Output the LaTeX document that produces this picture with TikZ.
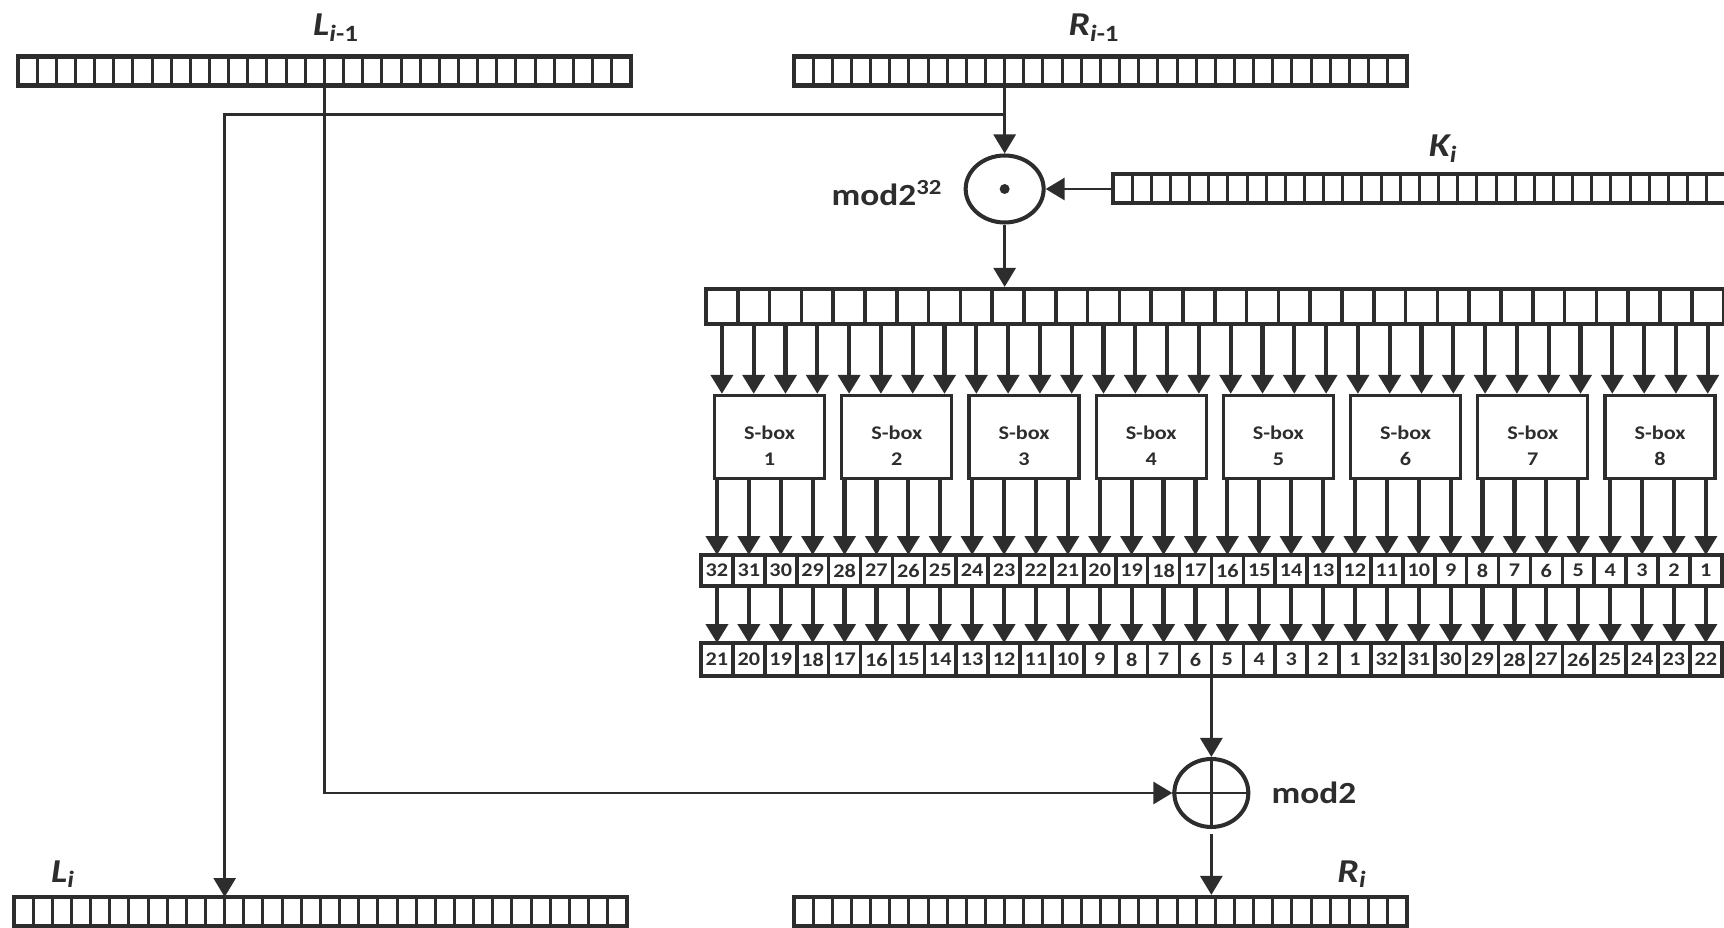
\documentclass[tikz,border=0pt]{standalone}
\usepackage{fontspec}
\setmainfont{Carlito}[FakeStretch=1.15]
\usepackage{tikz}
\usetikzlibrary{shapes,arrows.meta,positioning,calc,fit}
\definecolor{lineGray}{RGB}{45,45,45}

\begin{document}
\begin{tikzpicture}[x=0.02cm, y=-0.02cm, color=lineGray, line width=1.7pt,
  every node/.style={font=\fontsize{11}{15}\selectfont\bfseries},
  bit/.style={draw, line width=1.7pt, inner sep=0pt, outer sep=0pt, minimum width=0.383cm, minimum height=0.58cm},
  wcell/.style={draw, line width=2pt, inner sep=0pt, outer sep=0pt, minimum width=0.636cm},
  regframe/.style={draw, line width=2.4pt, inner sep=0pt},
  sbox/.style={draw, line width=1.9pt, minimum width=2.2cm, minimum height=1.66cm, align=center},
  op/.style={draw, ellipse, line width=2.3pt, inner sep=0pt},
  arr/.style={-{Triangle[width=0.44cm, length=0.38cm]}},
  bus/.style={arr, line width=2.4pt},
  reglbl/.style={font=\fontsize{19}{22}\selectfont\bfseries\itshape},
  oplbl/.style={font=\fontsize{17.5}{20}\selectfont\bfseries}]
  \useasboundingbox (0,0) rectangle (1724,928);
  % 32-bit registers
  \foreach \k in {1,...,32} {
    \node[bit] (lp-\k) at ({18+19.15*(\k-0.5)},71) {};
    \node[bit] (rp-\k) at ({794+19.15*(\k-0.5)},71) {};
    \node[bit] (ki-\k) at ({1113+19.15*(\k-0.5)},188.5) {};
    \node[bit] (li-\k) at ({14+19.15*(\k-0.5)},911.5) {};
    \node[bit] (ri-\k) at ({794+19.15*(\k-0.5)},911.5) {};
    \node[wcell, minimum height=0.7cm] (ex-\k) at ({706+31.8*(\k-0.5)},306.5) {};
  }
  \node[regframe, fit=(lp-1)(lp-32)] (lprev) {};
  \node[regframe, fit=(rp-1)(rp-32)] (rprev) {};
  \node[regframe, fit=(ki-1)(ki-32)] (key) {};
  \node[regframe, fit=(li-1)(li-32)] (lnew) {};
  \node[regframe, fit=(ri-1)(ri-32)] (rnew) {};
  \node[regframe, fit=(ex-1)(ex-32)] (expand) {};
  % Labels
  \node[reglbl, anchor=base] (lprevlbl) at (336,36) {L\textsubscript{i\upshape-1}};
  \node[reglbl, anchor=base] (rprevlbl) at (1094,36) {R\textsubscript{i\upshape-1}};
  \node[reglbl, anchor=base] (keylbl) at (1443,157) {K\textsubscript{i}};
  \node[reglbl, anchor=base] (lnewlbl) at (63,882) {L\textsubscript{i}};
  \node[reglbl, anchor=base] (rnewlbl) at (1352,882) {R\textsubscript{i}};
  % S-boxes
  \foreach \j in {1,...,8}
    \node[sbox] (sb-\j) at ({706+31.8*(4*\j-2)},437) {\rule{0pt}{18pt}S-box\\\j};
  % Permutation rows
  \foreach \k in {1,...,32} {
    \pgfmathtruncatemacro{\n}{33-\k}
    \node[wcell, minimum height=0.62cm] (oa-\k) at ({701+31.9*(\k-0.5)},570.5) {\n};
  }
  \foreach \n [count=\k] in {21,20,19,18,17,16,15,14,13,12,11,10,9,8,7,6,5,4,3,2,1,32,31,30,29,28,27,26,25,24,23,22}
    \node[wcell, minimum height=0.66cm] (ob-\k) at ({701+31.9*(\k-0.5)},659.5) {\n};
  \node[regframe, fit=(oa-1)(oa-32)] (sout) {};
  \node[regframe, fit=(ob-1)(ob-32)] (perm) {};
  \foreach \k in {1,...,32} {
    \pgfmathtruncatemacro{\j}{(\k-1)/4+1}
    \draw[bus] (ex-\k.south) -- (ex-\k.south |- sb-\j.north);
    \draw[bus] (oa-\k.north |- sb-\j.south) -- (oa-\k.north);
    \draw[bus] (oa-\k.south) -- (ob-\k.north);
  }
  % Operations
  \node[op, minimum width=1.56cm, minimum height=1.34cm] (add) at (rp-11.south east |- 0,189) {};
  \fill (add.center) circle (5);
  \node[oplbl, left=0.28cm, yshift=-0.09cm] (addlbl) at (add.west) {mod2\textsuperscript{32}};
  \node[op, minimum width=1.48cm, minimum height=1.36cm] (xor) at (ob-16.south east |- 0,793) {};
  \draw (xor.north) -- (xor.south) (xor.west) -- (xor.east);
  \node[oplbl, right=0.28cm] (xorlbl) at (xor.east) {mod2};
  % Arrows
  \coordinate (split) at (rp-11.south east |- 0,115);
  \draw[arr] (rp-11.south east) -- (add.north);
  \draw[arr] (split) -| (li-11.north east);
  \draw[arr] (key.west |- add.east) -- (add.east);
  \draw[arr] (add.south) -- (add.south |- expand.north);
  \draw[arr] (lp-16.south east) |- (xor.west);
  \draw[arr] (ob-16.south east) -- (xor.north);
  \draw[arr, shorten <=0.1cm] (xor.south) -- (xor.south |- rnew.north);
\end{tikzpicture}
\end{document}
